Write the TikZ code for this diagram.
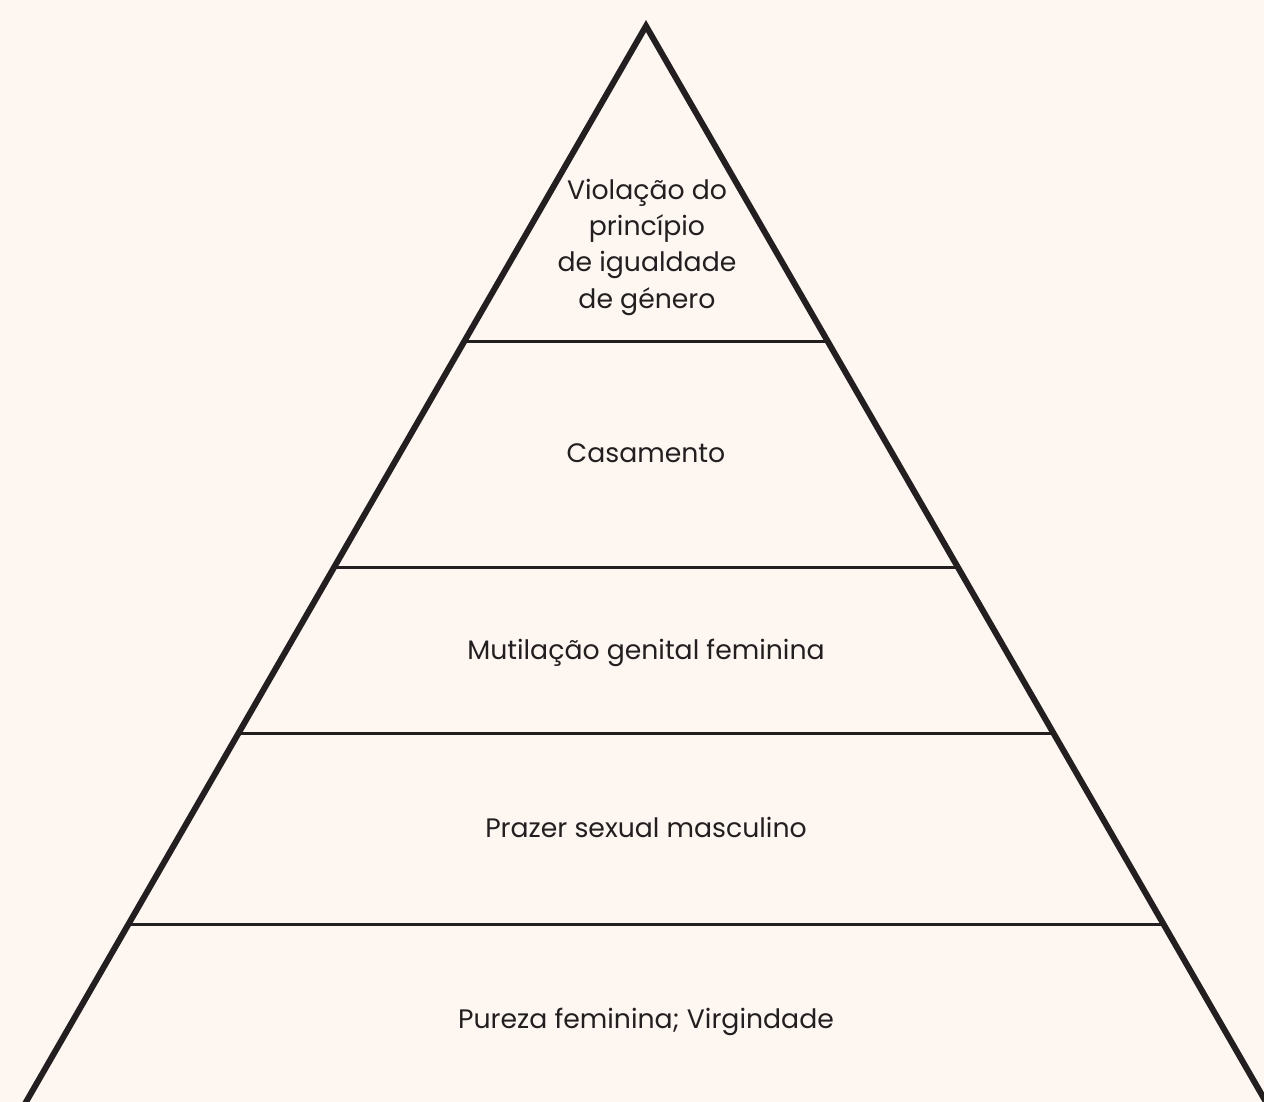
\documentclass[tikz,border=0pt]{standalone}
\usepackage{fontspec}
\setmainfont{Poppins}
\usepackage{tikz}
\usetikzlibrary{calc,math}
\definecolor{cream}{HTML}{FDF6F1}
\definecolor{ink}{HTML}{231F20}

\begin{document}
\begin{tikzpicture}
[x=1pt,y=-1pt,side/.style={draw=ink,line width=6pt,line join=miter},
level/.style={draw=ink,line width=3pt},
label/.style={text=ink,font=\fontsize{26.7}{36.3}\selectfont,anchor=base,align=center},]

%Page and background
\fill[cream] (0,0) rectangle (1264,1102);
\useasboundingbox (0,0) rectangle (1264,1102);
\clip (0,0) rectangle (1264,1102);

%Split fractions along the sides
\tikzmath{\fa = 0.2928; \fb = 0.5028; \fc = 0.6571; \fd = 0.8355; }
%
%Apex and base corners
\coordinate (T) at (646, 26);
\coordinate (L) at (26, 1102);
\coordinate (R) at (1266, 1102);

%Ends of the level lines
\coordinate (l1) at ($(T)!\fa!(L)$);
\coordinate (r1) at ($(T)!\fa!(R)$);
\coordinate (l2) at ($(T)!\fb!(L)$);
\coordinate (r2) at ($(T)!\fb!(R)$);
\coordinate (l3) at ($(T)!\fc!(L)$);
\coordinate (r3) at ($(T)!\fc!(R)$);
\coordinate (l4) at ($(T)!\fd!(L)$);
\coordinate (r4) at ($(T)!\fd!(R)$);

\draw[level] (l1) -- (r1);
\draw[level] (l2) -- (r2);
\draw[level] (l3) -- (r3);
\draw[level] (l4) -- (r4);
\draw[side] ($(L)!-0.02!(T)$) -- (T) -- ($(R)!-0.02!(T)$);

%Labels (base of a multi-line node is its last line)
\node[label] (top) at (647, 308) {Violação do\\ princípio\\ de igualdade\\ de género};
\node[label] (casamento) at (646, 462) {Casamento};
\node[label] (mutilacao) at (646, 659) {Mutilação genital feminina};
\node[label] (prazer) at (646, 837) {Prazer sexual masculino};
\node[label] (pureza) at (646, 1028) {Pureza feminina; Virgindade};

\end{tikzpicture}
\end{document}
